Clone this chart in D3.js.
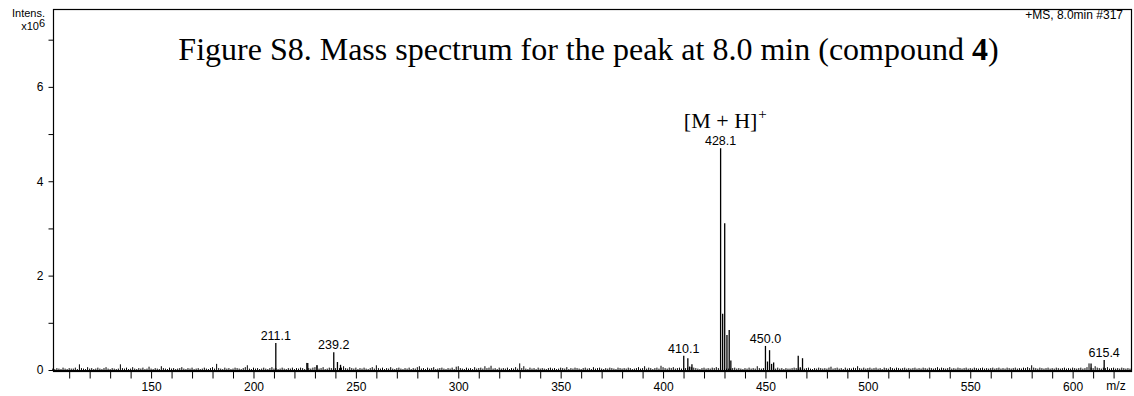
<!DOCTYPE html>
<html>
<head>
<meta charset="utf-8">
<script src="https://cdn.jsdelivr.net/npm/d3@7"></script>
<style>
  body { margin: 0; background: #fff; }
  svg { display: block; }
  text { font-family: "Liberation Sans", Arial, sans-serif; fill: #000; }
  .serif { font-family: "Liberation Serif", "Times New Roman", serif; }
</style>
</head>
<body>
<svg id="ms"></svg>
<script>
// labelled / main peaks, m/z and intensity (x10^6)
var peakMz        = [210.9, 239.2, 241.0, 242.5, 226.5, 231.0, 410.1, 412.1, 413.0, 414.1,
                     428.1, 429.1, 430.1, 431.2, 432.3, 433.1,
                     450.0, 451.0, 452.0, 453.0, 454.0, 466.0, 467.0, 468.1,
                     609.0, 615.4];
var peakIntensity = [0.57, 0.375, 0.17, 0.11, 0.15, 0.10, 0.30, 0.25, 0.07, 0.12,
                     4.70, 1.19, 3.11, 0.74, 0.85, 0.20,
                     0.51, 0.18, 0.42, 0.13, 0.16, 0.30, 0.06, 0.25,
                     0.14, 0.21];

// which peaks carry a label, and the text shown
var labelMz   = [210.9, 239.2, 410.1, 428.1, 450.0, 615.4];
var labelText = ["211.1", "239.2", "410.1", "428.1", "450.0", "615.4"];

// baseline noise, one bar per nominal mass from 102 on, in units of 10^4
var noiseStart = 102;
var noise = [
  3,2,4,3,2,5,3,2,4,3,3,5,2,12,4,3,2,6,3,4,
  2,3,5,3,2,4,6,3,2,4,3,2,3,12,4,3,5,2,3,6,
  3,2,4,3,5,2,3,7,3,2,4,3,2,8,4,3,2,5,3,4,
  2,3,4,6,3,2,4,3,5,2,3,4,2,3,5,3,2,4,6,3,
  13,4,3,2,5,3,4,2,3,5,4,3,2,4,6,10,3,2,5,3,
  4,2,3,5,3,2,4,6,3,4,2,3,5,3,2,4,3,5,2,4,
  3,5,4,2,15,4,3,5,6,10,3,4,6,2,3,5,4,3,4,3,
  4,5,8,4,3,6,4,3,5,2,4,3,5,3,2,4,6,3,10,4,
  3,5,2,4,3,6,3,2,4,5,3,2,4,3,5,2,4,3,6,8,
  3,4,2,5,3,4,6,2,3,4,5,3,2,4,3,5,2,7,8,4,
  3,2,5,3,4,2,6,3,4,5,3,8,4,5,9,3,4,2,5,3,
  4,3,5,2,4,3,6,3,14,4,8,3,2,5,3,4,2,5,3,4,
  3,2,4,5,3,4,2,3,5,4,3,6,2,4,3,5,4,3,2,4,
  5,3,4,2,6,3,4,5,3,2,4,3,5,4,3,2,5,4,3,4,
  3,5,4,2,3,4,6,3,4,8,3,5,4,2,4,5,3,9,6,4,
  3,5,4,6,3,4,5,3,4,4,5,7,6,5,4,3,2,4,5,3,
  4,3,5,4,6,4,3,3,3,3,3,3,4,5,3,4,3,2,4,3,
  5,3,4,3,8,4,3,4,3,3,3,3,3,3,5,3,4,2,4,3,
  3,4,5,4,3,3,3,3,4,5,3,2,4,3,5,4,3,4,3,5,
  7,3,4,5,3,4,2,5,3,4,3,5,4,8,4,3,5,3,4,5,
  3,4,5,3,4,2,5,4,3,6,4,3,5,4,3,4,5,3,4,3,
  4,5,3,4,3,5,4,3,5,4,3,4,6,3,5,4,3,4,6,3,
  4,3,5,4,3,4,5,3,4,3,5,4,3,4,5,3,4,3,4,5,
  3,4,5,3,4,3,5,4,3,4,5,3,4,3,5,4,6,4,10,5,
  4,3,5,4,3,4,5,3,4,3,5,4,3,4,5,3,4,3,5,4,
  3,4,5,3,4,6,14,5,4,8,5,4,3,5,4,6,3,4,5,3,
  4,3,5,4,3,4,3
];

var xTicks = [];
for (let t = 110; t <= 620; t += 10) xTicks.push(t);
var yTicks = [0, 1, 2, 3, 4, 5, 6, 7];

width = 1134;
height = 396;
var plotLeft = 53, plotRight = 1131, plotTop = 9, plotBottom = 371, zeroY = 370;

var svg = d3.select("#ms").attr("width", width).attr("height", height);

var x = d3.scaleLinear().domain([102.1, 628.5]).range([plotLeft, plotRight]);
var y = d3.scaleLinear().domain([0, 7.65]).range([zeroY, plotTop]);

// frame
svg.append("rect")
    .attr("x", plotLeft + 0.5).attr("y", plotTop + 0.5)
    .attr("width", plotRight - plotLeft).attr("height", plotBottom - plotTop)
    .attr("fill", "none").attr("stroke", "#000").attr("stroke-width", 1.2);

// axes
var xAxis = d3.axisBottom(x)
    .tickValues(xTicks)
    .tickSize(7)
    .tickPadding(4)
    .tickFormat(d => d % 50 === 0 ? d : "");
svg.append("g")
    .attr("transform", "translate(0," + (plotBottom + 0.5) + ")")
    .call(xAxis)
    .call(g => g.select(".domain").remove())
    .call(g => g.selectAll("text").attr("font-size", 12).attr("font-family", "Liberation Sans, Arial"));

var yAxis = d3.axisLeft(y)
    .tickValues(yTicks)
    .tickSize(5)
    .tickPadding(5)
    .tickFormat(d => d % 2 === 0 ? d : "");
svg.append("g")
    .attr("transform", "translate(" + (plotLeft + 0.5) + ",0)")
    .call(yAxis)
    .call(g => g.select(".domain").remove())
    .call(g => g.selectAll("text").attr("font-size", 12).attr("font-family", "Liberation Sans, Arial"));

// spectrum: baseline + noise + peaks
svg.append("line")
    .attr("x1", plotLeft).attr("x2", plotRight)
    .attr("y1", zeroY + 0.5).attr("y2", zeroY + 0.5)
    .attr("stroke", "#000").attr("stroke-width", 1);

svg.append("g").selectAll("line")
    .data(noise)
    .enter().append("line")
    .attr("x1", (d, i) => x(noiseStart + i))
    .attr("x2", (d, i) => x(noiseStart + i))
    .attr("y1", zeroY + 0.5)
    .attr("y2", d => y(d / 100))
    .attr("stroke", "#000").attr("stroke-width", 1);

svg.append("g").selectAll("line")
    .data(peakMz)
    .enter().append("line")
    .attr("x1", d => x(d)).attr("x2", d => x(d))
    .attr("y1", zeroY + 0.5)
    .attr("y2", (d, i) => y(peakIntensity[i]))
    .attr("stroke", "#000").attr("stroke-width", 1.3);

// peak labels
svg.append("g").selectAll("text")
    .data(labelMz)
    .enter().append("text")
    .attr("x", d => x(d))
    .attr("y", d => y(peakIntensity[peakMz.indexOf(d)]) - 3)
    .attr("text-anchor", "middle")
    .attr("font-size", 12.5)
    .text((d, i) => labelText[i]);

// [M + H]+ annotation
var ion = svg.append("text")
    .attr("class", "serif")
    .attr("x", x(428.1)).attr("y", 128)
    .attr("text-anchor", "middle")
    .attr("font-size", 22)
    .text("[M + H]");
var ionW = ion.node().getComputedTextLength();
svg.append("text")
    .attr("class", "serif")
    .attr("x", x(428.1) + ionW / 2 + 1).attr("y", 119)
    .attr("font-size", 15)
    .text("+");

// title
var title = svg.append("text")
    .attr("class", "serif")
    .attr("x", 588.5).attr("y", 60)
    .attr("text-anchor", "middle")
    .attr("font-size", 32);
title.append("tspan").text("Figure S8. Mass spectrum for the peak at 8.0 min (compound ");
title.append("tspan").attr("font-weight", "bold").text("4");
title.append("tspan").text(")");

// corner texts
svg.append("text").attr("x", 45).attr("y", 17).attr("text-anchor", "end")
    .attr("font-size", 11).text("Intens.");
var mult = svg.append("text").attr("x", 45).attr("y", 30).attr("text-anchor", "end")
    .attr("font-size", 11);
mult.append("tspan").text("x10");
mult.append("tspan").attr("dy", -3).attr("font-size", 11).text("6");

svg.append("text").attr("x", 1123).attr("y", 19).attr("text-anchor", "end")
    .attr("font-size", 12).text("+MS, 8.0min #317");

svg.append("text").attr("x", 1116).attr("y", 390).attr("text-anchor", "middle")
    .attr("font-size", 12).text("m/z");
</script>
</body>
</html>
